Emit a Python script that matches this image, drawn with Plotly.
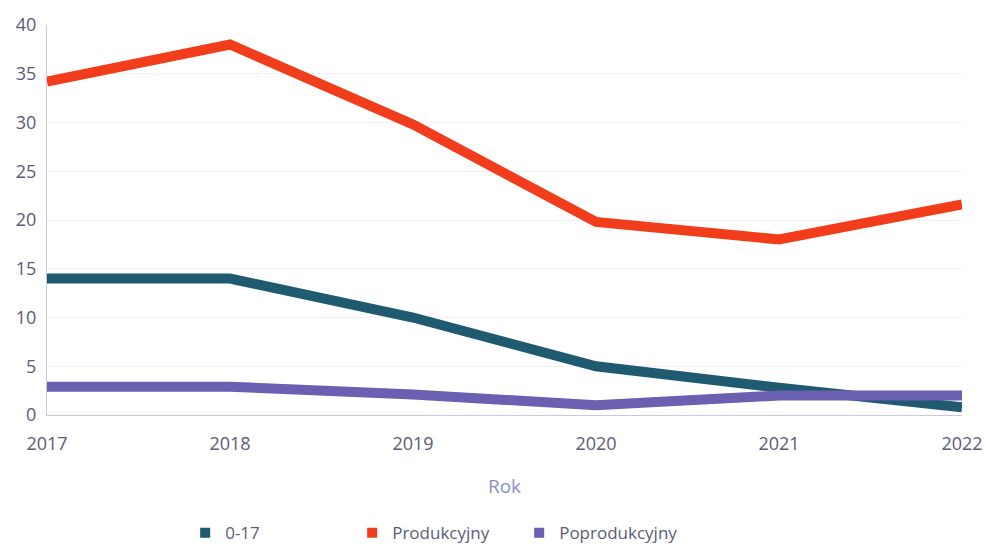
import plotly.graph_objects as go

years = [2017, 2018, 2019, 2020, 2021, 2022]
s_0_17 = [14, 14, 10, 5, 2.8, 0.8]
s_prod = [34.2, 38, 29.8, 19.8, 18, 21.6]
s_poprod = [2.9, 2.9, 2.1, 1, 2, 2]

names = ["0-17", "Produkcyjny", "Poprodukcyjny"]
colors = ["#1f5a70", "#f23d1c", "#6a5fb0"]
series = [s_0_17, s_prod, s_poprod]

fig = go.Figure()
for name, col, vals in zip(names, colors, series):
    fig.add_trace(go.Scatter(x=years, y=vals, mode="lines", name=name,
                             line=dict(color=col, width=10), showlegend=False))
for name, col in zip(names, colors):
    fig.add_trace(go.Scatter(x=[None], y=[None], mode="markers", name=name,
                             marker=dict(color=col, symbol="square", size=10)))

fig.update_layout(
    width=986, height=549,
    margin=dict(l=47, r=24, t=25, b=134),
    paper_bgcolor="white", plot_bgcolor="white",
    font=dict(family="Open Sans", color="#5b5b78", size=18),
    xaxis=dict(range=[2017, 2022], tickvals=years, ticktext=[str(y) for y in years],
               showgrid=False, showline=True, linecolor="#c9c9de", linewidth=1,
               ticks="", automargin=False, ticklabelstandoff=12,
               title=dict(text="Rok", font=dict(color="#8e8ec8", size=19), standoff=26)),
    yaxis=dict(range=[0, 40], dtick=5, showgrid=True, gridcolor="#f0f0f5",
               showline=True, linecolor="#c9c9de", linewidth=1, zeroline=False,
               ticks="", ticklabelstandoff=6, automargin=False),
    legend=dict(orientation="h", x=0.151, xref="paper", y=0.029, yref="container",
                yanchor="middle", xanchor="left",
                entrywidth=122, entrywidthmode="pixels", itemwidth=30,
                font=dict(size=17, color="#5b5b78")),
)

fig.write_html("out.html", config={"displayModeBar": False},
               post_script="document.body.style.margin='0';")
